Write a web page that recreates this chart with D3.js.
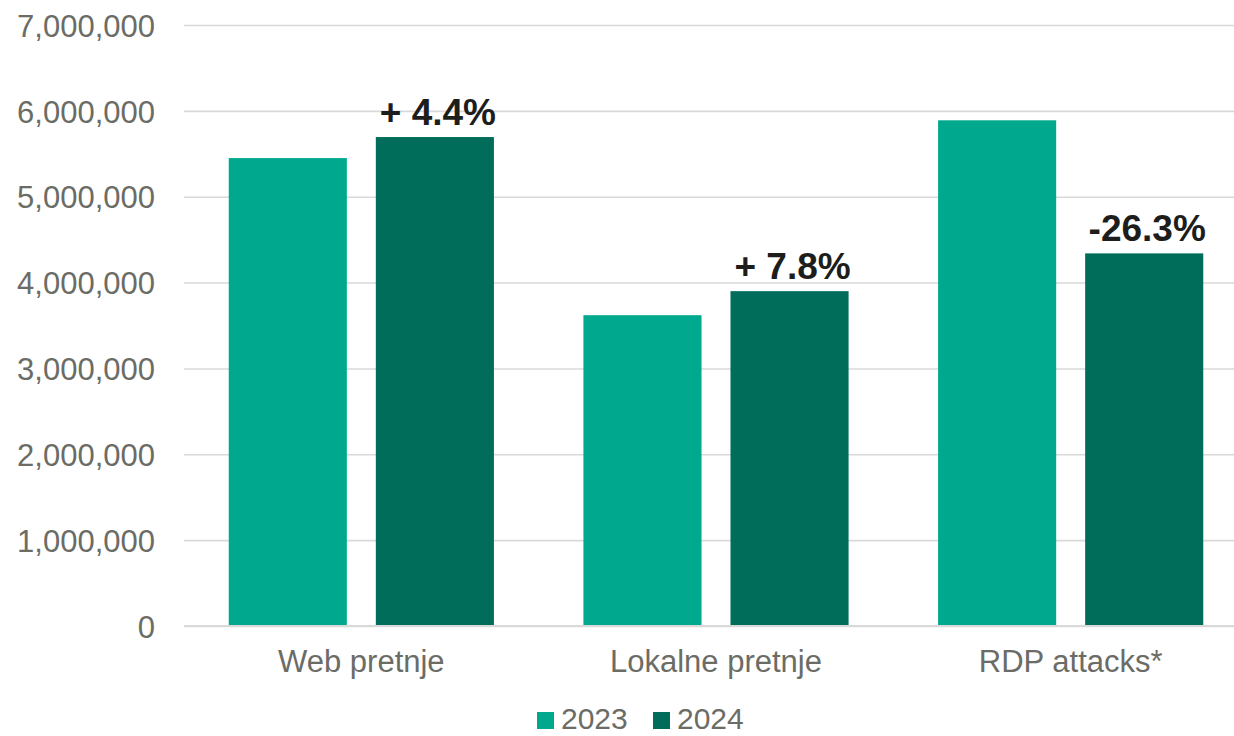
<!DOCTYPE html>
<html>
<head>
<meta charset="utf-8">
<script src="https://cdn.jsdelivr.net/npm/d3@7"></script>
<style>
  body { margin: 0; background: #fff; }
  text { font-family: "Liberation Sans", Arial, sans-serif; }
</style>
</head>
<body>
<div id="chart"></div>
<script>
// data
var categories = ["Web pretnje", "Lokalne pretnje", "RDP attacks*"];
var years = ["2023", "2024"];
var values2023 = [5450000, 3620000, 5890000];
var values2024 = [5695000, 3900000, 4340000];
var changes = ["+ 4.4%", "+ 7.8%", "-26.3%"];
var yTicks = [0, 1000000, 2000000, 3000000, 4000000, 5000000, 6000000, 7000000];

var width = 1234,
    height = 736;
var margin = {top: 25, right: -14, bottom: 110, left: 184};

var colors = ["#00a88e", "#006d5b"];
var textGray = "#6b6c66";

var svg = d3.select("#chart").append("svg")
    .attr("width", width)
    .attr("height", height);

// group scale, plot runs a bit past the right edge like the original
var x0 = d3.scaleBand()
    .domain(categories)
    .range([margin.left, width - margin.right])
    .paddingInner(0)
    .paddingOuter(0);

var x1 = d3.scaleBand()
    .domain(years)
    .range([44.75, x0.bandwidth() - 44.75])
    .paddingInner(0.197)
    .paddingOuter(0);

var y = d3.scaleLinear()
    .domain([0, 7000000])
    .range([height - margin.bottom, margin.top]);

// gridlines + y labels
var yAxis = d3.axisLeft(y)
    .tickValues(yTicks)
    .tickFormat(d3.format(","))
    .tickSize(-(width - margin.left))
    .tickPadding(29);

var gy = svg.append("g")
    .attr("transform", "translate(" + margin.left + ",0)")
    .call(yAxis);
gy.select(".domain").remove();
gy.selectAll(".tick line")
    .attr("stroke", "#d9d9d9")
    .attr("stroke-width", 1.6);
gy.selectAll(".tick text")
    .attr("fill", textGray)
    .style("font-size", "31px")
    .attr("dy", "0.36em");

// bars
var rows = categories.map(function(c, i) {
  return {cat: c, vals: [values2023[i], values2024[i]], change: changes[i]};
});

var groups = svg.selectAll("g.group")
  .data(rows)
  .enter()
  .append("g")
    .attr("class", "group")
    .attr("transform", function(d) { return "translate(" + x0(d.cat) + ",0)"; });

groups.selectAll("rect")
  .data(function(d) { return d.vals.map(function(v, j) { return {year: years[j], value: v, j: j}; }); })
  .enter()
  .append("rect")
    .attr("x", function(d) { return x1(d.year); })
    .attr("y", function(d) { return y(d.value); })
    .attr("width", x1.bandwidth())
    .attr("height", function(d) { return y(0) - y(d.value); })
    .attr("fill", function(d) { return colors[d.j]; });

// percent change labels above the 2024 bars
groups.append("text")
    .attr("x", x1("2024") + x1.bandwidth() / 2 + 3)
    .attr("y", function(d) { return y(d.vals[1]) - 12; })
    .attr("text-anchor", "middle")
    .attr("fill", "#1d1d1b")
    .style("font-size", "37px")
    .style("font-weight", "bold")
    .text(function(d) { return d.change; });

// x axis line
svg.append("line")
    .attr("x1", margin.left)
    .attr("x2", width)
    .attr("y1", y(0))
    .attr("y2", y(0))
    .attr("stroke", "#d9d9d9")
    .attr("stroke-width", 2);

// category labels
groups.append("text")
    .attr("x", x0.bandwidth() / 2)
    .attr("y", 672)
    .attr("text-anchor", "middle")
    .attr("fill", textGray)
    .style("font-size", "31px")
    .text(function(d) { return d.cat; });

// legend
var legendX = [537, 653];
var legend = svg.selectAll("g.legend")
  .data(years)
  .enter()
  .append("g")
    .attr("class", "legend")
    .attr("transform", function(d, i) { return "translate(" + legendX[i] + ",712)"; });

legend.append("rect")
    .attr("width", 17)
    .attr("height", 17)
    .attr("fill", function(d, i) { return colors[i]; });

legend.append("text")
    .attr("x", 24)
    .attr("y", 17)
    .attr("fill", textGray)
    .style("font-size", "30px")
    .text(function(d) { return d; });
</script>
</body>
</html>
